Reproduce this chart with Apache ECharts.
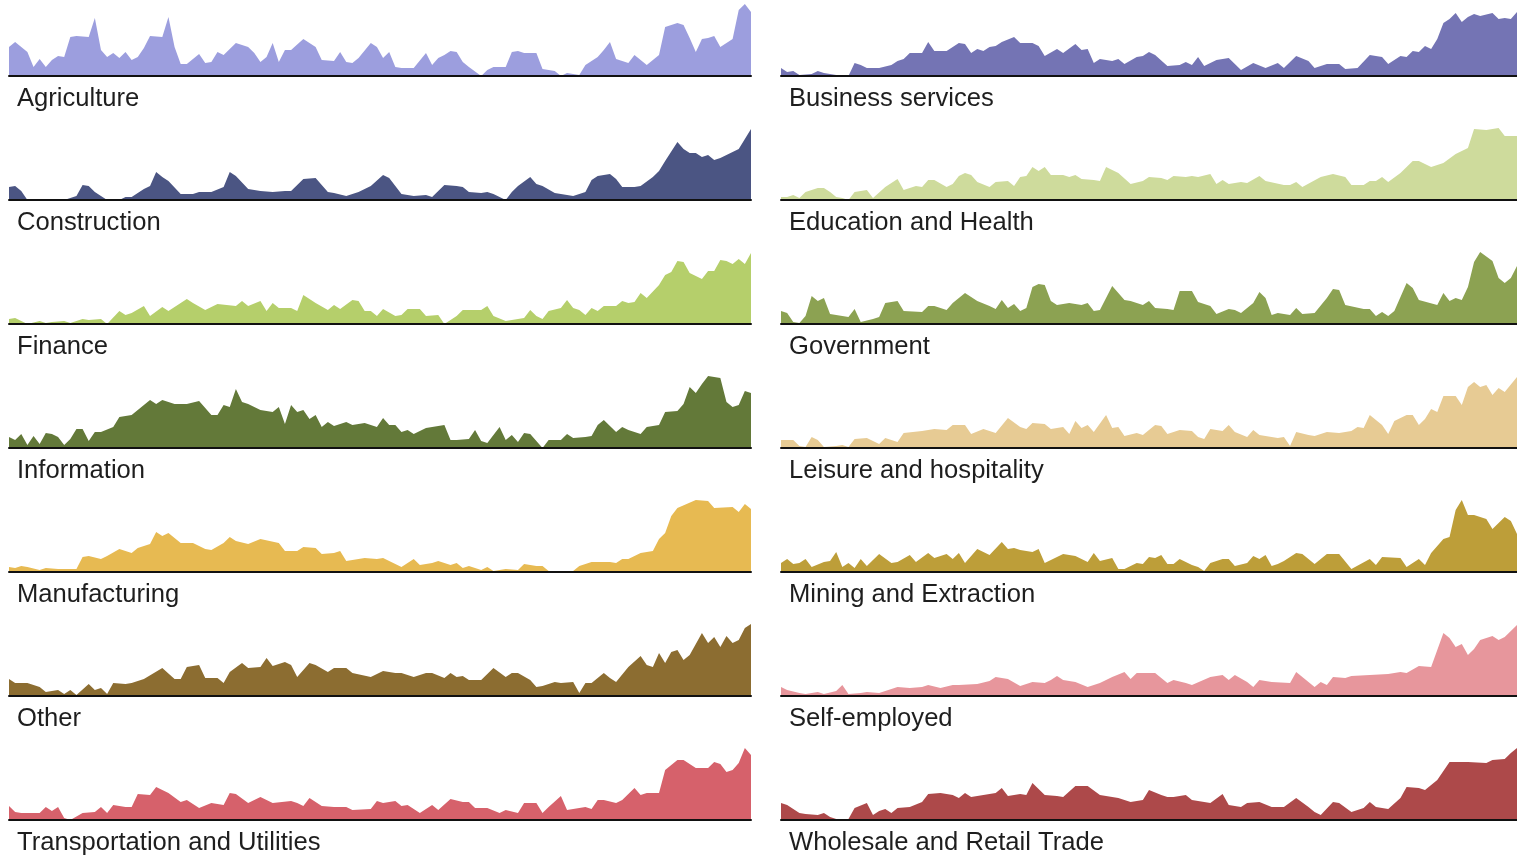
<!DOCTYPE html>
<html>
<head>
<meta charset="utf-8">
<script src="https://cdn.jsdelivr.net/npm/echarts@6/dist/echarts.min.js"></script>
<style>
html,body{margin:0;padding:0;background:#fff;overflow:hidden;}
#chart{width:1517px;height:855px;}
</style>
</head>
<body>
<div id="chart"></div>
<script>
// Values: [month index since Jan 2000, relative unemployment level]
const agriculture = [[0,29],[1,34],[3,24],[4,9],[5,17],[6,9],[7,16],[8,20],[9,19],[10,39],[11,40],[13,39],[14,58],[15,26],[16,19],[17,23],[18,18],[19,24],[20,16],[21,19],[22,28],[23,40],[25,39],[26,59],[27,29],[28,12],[29,12],[31,22],[32,13],[33,14],[34,24],[35,21],[37,33],[39,29],[40,23],[41,14],[42,19],[43,33],[44,14],[45,26],[46,26],[48,37],[50,29],[51,16],[53,15],[54,24],[55,14],[56,13],[57,18],[59,33],[60,29],[61,18],[62,24],[63,9],[64,8],[66,8],[68,23],[69,11],[70,18],[71,21],[72,25],[73,24],[74,14],[75,9],[77,0],[78,6],[79,9],[81,9],[82,24],[83,25],[84,23],[86,23],[87,7],[89,5],[90,0],[91,3],[93,1],[94,11],[96,19],[97,26],[98,34],[99,17],[101,13],[102,21],[104,11],[106,21],[107,49],[109,53],[110,51],[111,38],[112,24],[113,37],[114,38],[115,40],[116,29],[118,37],[119,66],[120,72],[121,64]];
const construction = [[0,13],[1,14],[2,9],[3,0],[9,0],[11,4],[12,15],[13,14],[14,8],[15,4],[16,0],[18,0],[19,3],[20,3],[22,11],[23,14],[24,28],[25,23],[26,19],[28,6],[30,6],[31,8],[33,8],[35,13],[36,28],[37,24],[39,11],[41,9],[43,8],[45,9],[46,9],[48,21],[50,22],[52,8],[53,7],[55,4],[57,8],[59,14],[61,25],[62,22],[64,6],[66,4],[68,5],[69,3],[70,9],[71,15],[73,14],[74,13],[75,8],[77,7],[78,8],[79,6],[81,0],[82,8],[83,14],[85,23],[86,16],[87,14],[89,7],[90,6],[92,4],[93,6],[94,8],[95,20],[96,24],[98,26],[99,21],[100,13],[102,13],[103,14],[105,23],[106,29],[107,39],[109,58],[110,51],[111,47],[112,47],[113,43],[114,45],[115,40],[116,42],[118,48],[119,51],[120,61],[121,71]];
const finance = [[0,5],[1,6],[3,0],[5,3],[6,1],[7,2],[9,3],[10,1],[12,5],[13,4],[15,5],[16,0],[18,13],[19,9],[20,11],[22,18],[23,8],[25,17],[26,13],[29,25],[30,21],[32,14],[34,20],[37,18],[38,23],[39,18],[41,23],[42,13],[43,21],[44,16],[46,16],[47,13],[48,29],[50,21],[52,14],[53,19],[54,15],[56,24],[57,23],[58,13],[59,13],[60,8],[61,15],[63,8],[64,9],[65,15],[67,15],[68,8],[70,9],[71,0],[73,8],[74,14],[77,14],[78,18],[79,8],[81,3],[83,5],[84,6],[85,14],[86,8],[87,5],[88,13],[90,16],[91,24],[92,16],[93,14],[94,9],[95,16],[96,13],[97,18],[99,18],[100,23],[101,21],[102,22],[103,31],[104,26],[106,39],[107,49],[108,52],[109,63],[110,62],[111,51],[113,45],[114,53],[115,53],[116,64],[117,63],[118,60],[119,65],[120,60],[121,71]];
const information = [[0,11],[1,8],[2,14],[3,3],[4,12],[5,4],[6,15],[7,14],[8,11],[9,3],[10,9],[11,19],[12,19],[13,7],[14,16],[15,16],[17,21],[18,31],[20,33],[21,38],[23,48],[24,44],[25,48],[27,44],[29,44],[31,47],[33,33],[34,33],[35,43],[36,41],[37,59],[38,46],[39,44],[41,38],[43,36],[44,41],[45,24],[46,43],[47,36],[48,38],[49,29],[50,33],[51,21],[52,26],[53,22],[55,26],[56,23],[58,25],[60,21],[61,30],[62,23],[63,23],[64,16],[65,18],[66,14],[68,20],[70,22],[71,23],[72,8],[73,8],[75,9],[76,18],[77,7],[78,5],[80,21],[81,8],[82,13],[83,6],[84,15],[85,14],[87,0],[88,8],[90,8],[91,14],[92,10],[94,11],[95,12],[96,23],[97,28],[99,16],[100,21],[101,18],[103,14],[104,21],[106,23],[107,36],[109,37],[110,44],[111,61],[112,55],[113,64],[114,72],[116,70],[117,46],[118,41],[119,43],[120,57],[121,55]];
const manufacturing = [[0,5],[1,4],[2,6],[3,5],[5,2],[6,4],[8,3],[10,3],[11,3],[12,15],[13,16],[15,13],[16,16],[18,23],[20,19],[21,24],[23,28],[24,40],[25,36],[26,39],[28,29],[30,29],[32,23],[33,22],[35,29],[36,35],[37,31],[39,28],[41,33],[44,29],[45,21],[47,21],[48,25],[50,24],[51,18],[53,19],[54,21],[55,11],[58,14],[60,13],[61,14],[63,8],[64,5],[66,13],[67,7],[69,9],[70,11],[72,7],[73,9],[74,4],[75,6],[77,2],[78,5],[79,1],[81,3],[83,2],[84,8],[86,6],[87,6],[88,1],[92,1],[93,6],[95,10],[98,10],[99,9],[100,13],[101,13],[103,19],[105,21],[106,33],[107,39],[108,56],[109,64],[112,72],[114,71],[115,64],[118,65],[119,60],[120,68],[121,63]];
const other = [[0,17],[1,13],[3,13],[5,9],[6,4],[8,6],[9,2],[10,6],[11,1],[13,12],[14,6],[15,8],[16,2],[17,13],[19,12],[20,13],[22,17],[25,28],[27,17],[28,17],[29,29],[31,31],[32,18],[34,18],[35,13],[36,24],[38,33],[39,28],[41,29],[42,38],[43,30],[45,34],[46,31],[47,19],[49,33],[50,31],[52,24],[53,28],[55,28],[56,23],[59,19],[61,25],[63,23],[64,23],[66,19],[68,23],[69,23],[71,18],[72,23],[73,19],[74,20],[75,16],[77,16],[79,28],[81,19],[82,23],[83,23],[85,16],[86,9],[87,10],[89,14],[90,13],[92,14],[93,3],[94,13],[95,13],[97,23],[98,18],[99,14],[101,29],[103,40],[104,31],[105,29],[106,43],[107,33],[108,44],[109,46],[110,36],[111,41],[113,63],[114,53],[115,59],[116,49],[117,60],[118,53],[119,56],[120,68],[121,72]];
const transportation = [[0,14],[1,8],[2,7],[5,7],[6,13],[7,9],[8,13],[9,2],[10,0],[12,7],[14,8],[15,13],[16,7],[17,15],[19,13],[20,13],[21,26],[23,25],[24,33],[26,27],[28,18],[29,20],[31,12],[33,17],[35,15],[36,27],[37,26],[39,17],[41,23],[43,17],[46,19],[47,17],[48,14],[49,22],[51,14],[53,13],[55,13],[56,10],[59,11],[60,19],[61,17],[63,19],[64,14],[65,15],[67,7],[69,15],[70,10],[72,21],[74,18],[75,18],[76,12],[78,12],[80,7],[81,10],[83,7],[84,17],[86,17],[87,7],[88,13],[90,24],[91,10],[93,12],[94,13],[95,11],[96,20],[97,20],[99,17],[100,20],[102,32],[103,25],[104,27],[106,27],[107,50],[109,60],[110,60],[112,52],[114,52],[115,58],[116,56],[117,48],[118,50],[119,57],[120,72],[121,65]];
const business = [[0,8],[1,4],[2,5],[3,1],[5,2],[6,5],[7,3],[9,1],[11,0],[12,13],[13,11],[14,8],[16,8],[18,11],[19,15],[20,17],[21,23],[23,23],[24,34],[25,25],[27,25],[29,33],[30,32],[31,23],[32,27],[33,25],[34,29],[35,30],[36,34],[38,39],[39,33],[41,33],[42,30],[43,20],[45,27],[46,23],[48,32],[49,26],[50,27],[51,13],[52,17],[54,15],[55,17],[56,12],[58,19],[59,20],[60,24],[61,21],[63,10],[65,11],[66,14],[67,11],[68,19],[69,10],[71,16],[73,18],[75,6],[77,13],[79,8],[81,13],[82,8],[84,20],[86,15],[87,8],[89,12],[91,12],[92,7],[94,8],[96,21],[98,19],[99,12],[101,20],[102,19],[103,25],[104,24],[105,30],[106,27],[107,37],[108,53],[109,57],[110,63],[111,54],[112,59],[113,62],[114,60],[116,63],[117,57],[118,58],[119,57],[120,64]];
const education = [[0,3],[1,3],[2,5],[3,2],[4,8],[6,12],[7,12],[8,8],[9,3],[10,2],[11,0],[12,8],[14,10],[15,2],[17,13],[19,21],[20,10],[22,14],[23,13],[24,20],[25,20],[27,13],[28,16],[29,24],[30,27],[31,25],[32,18],[34,13],[35,18],[37,19],[38,14],[39,23],[40,24],[41,33],[42,29],[43,33],[44,25],[46,25],[47,23],[48,25],[49,21],[51,20],[52,19],[53,33],[55,27],[57,16],[59,19],[60,23],[62,22],[63,20],[64,24],[66,23],[67,24],[68,23],[70,26],[71,16],[72,20],[73,16],[75,18],[76,17],[78,24],[79,19],[82,15],[83,15],[84,18],[85,13],[88,23],[90,26],[92,23],[93,15],[95,15],[96,19],[97,19],[98,23],[99,18],[101,27],[103,39],[104,39],[106,33],[107,35],[108,37],[110,46],[112,52],[113,71],[115,70],[117,72],[118,64],[120,64]];
const government = [[0,13],[1,11],[2,2],[3,1],[4,8],[5,28],[6,23],[7,26],[8,10],[11,7],[12,15],[13,2],[15,5],[16,7],[17,21],[19,23],[20,13],[23,12],[24,18],[25,18],[27,14],[28,21],[30,31],[32,23],[34,18],[35,15],[36,24],[37,16],[38,20],[39,13],[40,16],[41,37],[42,40],[43,39],[44,23],[45,19],[47,21],[49,19],[50,21],[51,13],[52,14],[54,38],[56,24],[57,23],[59,19],[60,23],[61,16],[63,15],[64,14],[65,33],[67,33],[68,22],[70,18],[71,10],[73,15],[74,14],[75,11],[77,21],[78,32],[79,26],[80,9],[81,11],[83,9],[84,16],[85,10],[87,11],[89,26],[90,35],[91,34],[92,19],[95,15],[96,15],[97,8],[98,12],[99,8],[100,13],[102,41],[103,36],[104,24],[107,19],[108,31],[109,23],[110,26],[111,24],[112,37],[113,62],[114,72],[116,63],[117,46],[118,41],[119,46],[120,58]];
const leisure = [[0,8],[2,8],[3,2],[4,1],[5,11],[6,8],[7,1],[9,2],[10,3],[11,1],[12,9],[14,10],[16,4],[17,10],[19,6],[20,15],[23,17],[25,19],[27,18],[28,23],[30,23],[31,14],[33,19],[35,15],[37,30],[39,21],[40,19],[41,25],[43,24],[44,19],[46,21],[47,14],[48,27],[49,20],[50,23],[51,16],[53,33],[54,20],[55,21],[56,12],[58,15],[59,13],[61,23],[62,22],[63,14],[65,18],[67,17],[68,11],[69,9],[70,19],[72,17],[73,23],[74,16],[76,11],[77,18],[78,13],[81,10],[82,11],[83,2],[84,16],[86,13],[87,12],[89,16],[91,15],[93,17],[94,21],[95,20],[96,33],[98,23],[99,14],[100,27],[102,33],[103,33],[104,23],[105,29],[106,39],[107,36],[108,52],[110,52],[111,43],[112,61],[113,66],[114,61],[115,63],[116,53],[117,60],[118,56],[120,71]];
const mining = [[0,9],[1,13],[2,8],[3,9],[4,13],[5,5],[7,10],[8,11],[9,20],[10,5],[11,9],[12,4],[13,13],[14,6],[16,18],[18,9],[19,10],[21,17],[22,10],[24,19],[25,14],[27,18],[28,13],[29,19],[30,9],[32,23],[34,17],[36,30],[37,23],[38,24],[39,22],[41,20],[42,23],[43,9],[46,18],[48,16],[50,10],[51,19],[52,11],[54,14],[55,3],[56,3],[58,9],[59,8],[60,15],[61,14],[62,17],[63,8],[64,8],[65,13],[67,7],[68,5],[69,1],[70,9],[72,13],[73,13],[74,6],[76,9],[77,16],[78,13],[79,17],[80,6],[81,8],[82,11],[84,19],[85,18],[87,8],[89,18],[91,18],[93,3],[96,13],[97,7],[98,15],[101,14],[102,5],[104,13],[105,7],[106,19],[108,33],[109,35],[110,62],[111,72],[112,57],[113,57],[115,53],[116,43],[118,55],[119,51],[120,38]];
const selfEmployed = [[0,9],[1,6],[3,3],[4,2],[6,4],[7,2],[9,5],[10,11],[11,2],[13,3],[14,4],[16,3],[19,9],[21,8],[23,9],[24,11],[26,8],[28,11],[29,11],[32,12],[34,15],[35,19],[37,17],[39,10],[41,14],[43,13],[44,16],[45,20],[46,16],[48,14],[50,9],[52,13],[54,19],[56,24],[57,17],[58,23],[59,23],[61,23],[63,13],[64,16],[66,13],[67,11],[70,19],[72,21],[73,16],[74,21],[76,14],[77,9],[78,16],[80,14],[83,13],[84,24],[86,14],[87,9],[88,14],[89,11],[90,19],[92,18],[93,20],[96,21],[99,22],[101,24],[102,23],[104,30],[106,29],[107,46],[108,63],[109,58],[110,49],[111,52],[112,41],[113,47],[114,56],[116,60],[117,56],[118,59],[120,71]];
const wholesale = [[0,17],[1,15],[3,7],[4,6],[6,5],[7,7],[8,3],[9,1],[11,1],[12,12],[14,17],[15,5],[16,9],[17,11],[18,7],[19,12],[21,13],[23,18],[24,26],[26,27],[28,25],[29,22],[30,27],[31,23],[33,25],[35,27],[36,32],[37,24],[39,26],[40,25],[41,37],[43,25],[45,24],[46,23],[48,34],[50,34],[52,25],[53,24],[55,22],[57,18],[59,20],[60,30],[62,25],[63,23],[64,23],[66,25],[67,20],[69,18],[70,17],[72,26],[73,15],[75,13],[76,17],[78,18],[80,13],[81,13],[82,13],[84,22],[86,13],[87,8],[88,5],[90,18],[91,17],[93,8],[95,12],[96,18],[97,13],[99,11],[101,22],[102,33],[104,32],[105,30],[107,40],[109,58],[110,58],[112,58],[115,57],[116,60],[118,61],[119,67],[120,72]];

const leftNames = ['Agriculture','Construction','Finance','Information','Manufacturing','Other','Transportation and Utilities'];
const rightNames = ['Business services','Education and Health','Government','Leisure and hospitality','Mining and Extraction','Self-employed','Wholesale and Retail Trade'];
const leftData = [agriculture, construction, finance, information, manufacturing, other, transportation];
const rightData = [business, education, government, leisure, mining, selfEmployed, wholesale];
const leftColors = ['#9c9ede','#4b5583','#b5cf6b','#637939','#e7ba52','#8c6d31','#d6616b'];
const rightColors = ['#7474b4','#cedb9c','#8ca252','#e7cb94','#bd9e39','#e7969c','#ad494a'];

const chart = echarts.init(document.getElementById('chart'), null, {renderer:'canvas'});
const grids = [], xAxes = [], yAxes = [], series = [], graphics = [];
const panelH = 72, rowStep = 124, firstBase = 76;
function addPanel(name, data, color, col, row) {
  const idx = grids.length;
  const left = col === 0 ? 9 : 781;
  const width = col === 0 ? 742 : 736;
  const xMax = col === 0 ? 121 : 120;
  const base = firstBase + rowStep * row;
  grids.push({left: left, top: base - panelH, width: width, height: panelH, containLabel: false});
  xAxes.push({type:'value', gridIndex: idx, min: 0, max: xMax, z: 5,
    axisLine:{show:true, onZero:false, lineStyle:{color:'#111', width:2}},
    axisTick:{show:false}, axisLabel:{show:false}, splitLine:{show:false}});
  yAxes.push({type:'value', gridIndex: idx, min: 0, max: 72, show:false, splitLine:{show:false}});
  series.push({type:'line', name: name, xAxisIndex: idx, yAxisIndex: idx, data: data,
    showSymbol:false, symbol:'none', smooth:false, silent:true,
    lineStyle:{width:0, color: color}, itemStyle:{color: color},
    areaStyle:{color: color, opacity: 1}});
  graphics.push({type:'text', x: left + 8, y: base + 23,
    style:{text: name, font: '25.6px "Liberation Sans", Arial, sans-serif', fill:'#1e1e1e', textVerticalAlign:'middle', textAlign:'left'}});
}
for (let r = 0; r < 7; r++) {
  addPanel(leftNames[r], leftData[r], leftColors[r], 0, r);
  addPanel(rightNames[r], rightData[r], rightColors[r], 1, r);
}
chart.setOption({
  animation: false,
  backgroundColor: '#ffffff',
  grid: grids, xAxis: xAxes, yAxis: yAxes, series: series,
  graphic: graphics
});
</script>
</body>
</html>
